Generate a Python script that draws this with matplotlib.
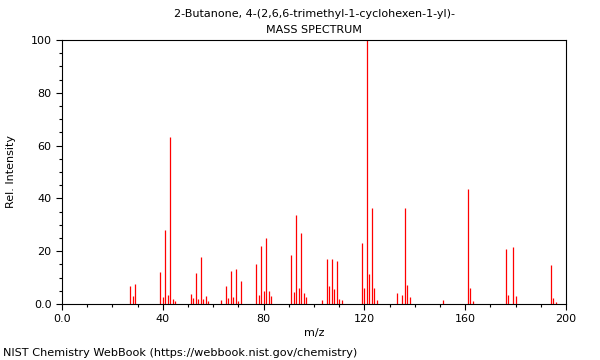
import matplotlib
matplotlib.use("Agg")
import matplotlib.pyplot as plt
from matplotlib.ticker import MultipleLocator, FixedLocator

# m/z and relative intensity
mz = [27, 28, 29, 39, 40, 41, 42, 43, 44, 45,
      51, 52, 53, 54, 55, 56, 57, 58, 63,
      65, 66, 67, 68, 69, 70, 71,
      77, 78, 79, 80, 81, 82, 83,
      91, 92, 93, 94, 95, 96, 97,
      103, 105, 106, 107, 108, 109, 110, 111,
      119, 120, 121, 122, 123, 124, 125,
      133, 135, 136, 137, 138, 151,
      161, 162, 163, 176, 177, 179, 180,
      194, 195, 196]
intensity = [6.8, 2.9, 7.5, 12.0, 2.8, 28.0, 3.3, 63.4, 1.9, 1.1,
             3.8, 2.3, 11.8, 1.8, 17.8, 1.9, 3.2, 1.3, 1.4,
             6.7, 2.3, 12.5, 2.8, 13.4, 1.3, 8.7,
             15.3, 3.4, 22.0, 5.0, 25.0, 5.0, 3.2,
             18.7, 4.7, 33.8, 5.9, 26.9, 4.1, 2.7,
             1.7, 17.0, 7.0, 17.0, 5.6, 16.3, 1.9, 1.4,
             23.0, 6.0, 100.0, 11.5, 36.2, 5.9, 1.5,
             4.0, 3.4, 36.3, 7.3, 2.8, 1.4,
             43.4, 6.2, 1.1, 20.8, 3.4, 21.6, 3.0,
             14.8, 2.3, 0.6]

title_line1 = "2-Butanone, 4-(2,6,6-trimethyl-1-cyclohexen-1-yl)-"
title_line2 = "MASS SPECTRUM"
x_ticks = [0, 40, 80, 120, 160, 200]
x_labels = ["0.0", "40", "80", "120", "160", "200"]
y_ticks = [0, 20, 40, 60, 80, 100]
y_labels = ["0.0", "20", "40", "60", "80", "100"]

fig = plt.figure(figsize=(6, 3.6), dpi=100)
ax = fig.add_axes([62 / 600, 56 / 360, 504 / 600, 264 / 360])

ax.vlines(mz, 0, intensity, colors="#ff0000", linewidth=0.9)

ax.set_xlim(0, 200)
ax.set_ylim(0, 100)
ax.xaxis.set_major_locator(FixedLocator(x_ticks))
ax.set_xticklabels(x_labels)
ax.yaxis.set_major_locator(FixedLocator(y_ticks))
ax.set_yticklabels(y_labels)
ax.xaxis.set_minor_locator(MultipleLocator(10))
ax.yaxis.set_minor_locator(MultipleLocator(5))
ax.tick_params(axis="both", which="major", labelsize=8, length=4, width=0.8, direction="out")
ax.tick_params(axis="both", which="minor", length=2.5, width=0.8, direction="out")
for s in ax.spines.values():
    s.set_linewidth(0.8)

ax.set_xlabel("m/z", fontsize=8)
ax.xaxis.set_label_coords(0.5, -24 / 264)
ax.set_ylabel("Rel. Intensity", fontsize=8)
ax.yaxis.set_label_coords(-46 / 504, 0.5)

fig.text(0.5 * (62 + 566) / 600, 1 - 14 / 360, title_line1, ha="center", va="center", fontsize=8)
fig.text(0.5 * (62 + 566) / 600, 1 - 30 / 360, title_line2, ha="center", va="center", fontsize=8)
fig.text(3 / 600, 1 - 353 / 360, "NIST Chemistry WebBook (https://webbook.nist.gov/chemistry)",
         ha="left", va="center", fontsize=8.15)

fig.savefig("out.png", dpi=100)
